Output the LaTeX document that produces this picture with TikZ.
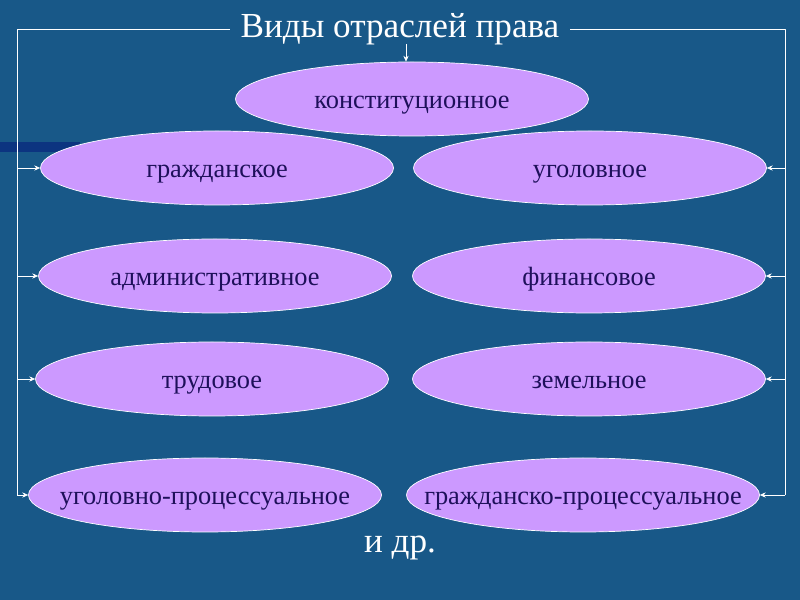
\documentclass[tikz,border=0pt]{standalone}
\usepackage{fontspec}
\setmainfont{Liberation Serif}
\usetikzlibrary{shapes.geometric,positioning,arrows.meta}
\definecolor{fonblue}{RGB}{24,88,136}
\definecolor{polosa}{RGB}{12,52,128}
\definecolor{sirenev}{RGB}{204,153,255}
\definecolor{chernil}{RGB}{30,16,90}
\begin{document}
\begin{tikzpicture}[x=0.03cm,y=-0.03cm,>={Stealth[length=5pt,width=4.5pt]},line join=round,
	oval/.style={ellipse,draw=white,fill=sirenev,line width=0.6pt,minimum width=10.59cm,minimum height=2.22cm,inner sep=0pt},
	nadpis/.style={text=chernil,font=\fontsize{22.5}{26}\selectfont,anchor=base},
	zagol/.style={text=white,font=\fontsize{30}{36}\selectfont,inner xsep=9pt},
	liniya/.style={white,line width=0.6pt}]
	\def\xl{17} \def\xr{785} \def\yt{29} \def\yb{495} % рамка
	\fill[fonblue] (0,0) rectangle (800,600);
	\fill[polosa] (0,142) rectangle (80,152);
	\useasboundingbox (0,0) rectangle (800,600);
	\node[zagol] (zag) at (400,29) {Виды отраслей права};
	\coordinate (lv) at (\xl,\yt); \coordinate (pv) at (\xr,\yt);
	\coordinate (ln) at (\xl,\yb); \coordinate (pn) at (\xr,\yb);
	\coordinate (zs) at (406,44);
	\foreach \n/\x/\y/\txt in {konst/412/99/конституционное,
		grazh/217/168/гражданское, ugol/590/168/уголовное,
		admin/215/276/административное, fin/589/276/финансовое,
		trud/212/379/трудовое, zem/589/379/земельное,
		ugproc/205/495/уголовно-процессуальное, grproc/583/495/гражданско-процессуальное}
	{\node[oval] (\n) at (\x,\y) {};
	 \node[nadpis] (\n-t) at ([yshift=-8.5pt]\n.center) {\txt};}
	\node[zagol] (idr) at (400,548) {и др.};
	\draw[liniya] (zag.west) -- (lv) -- (ln);
	\draw[liniya] (zag.east) -- (pv) -- (pn);
	\foreach \n in {grazh,admin,trud,ugproc}
		\draw[liniya,->] (\n.west -| lv) -- (\n.west);
	\foreach \n in {ugol,fin,zem,grproc}
		\draw[liniya,->] (\n.east -| pv) -- (\n.east);
	\draw[liniya,->] (zs) -- (zs |- konst.north);
\end{tikzpicture}
\end{document}
